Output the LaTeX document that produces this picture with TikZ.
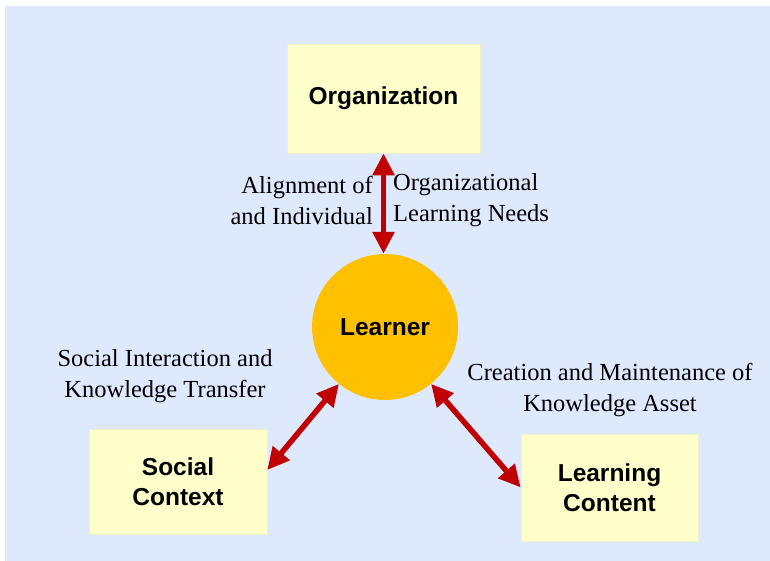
\documentclass[tikz,border=0pt]{standalone}
\usepackage{fontspec}
\setmainfont{Liberation Serif}
\setsansfont{Liberation Sans}
\usetikzlibrary{arrows.meta}
\definecolor{bgblue}{RGB}{222,233,254}
\definecolor{boxyellow}{RGB}{255,255,204}
\definecolor{boxedge}{RGB}{240,240,200}
\definecolor{gold}{RGB}{255,192,0}
\definecolor{darkred}{RGB}{192,0,0}
\tikzset{
  box/.style={rectangle, fill=boxyellow, draw=boxedge, line width=0.6pt, align=center,
    font=\sffamily\bfseries\fontsize{24.5}{30}\selectfont},
  learnerstyle/.style={circle, fill=gold, minimum size=146pt, inner sep=0pt,
    font=\sffamily\bfseries\fontsize{24.5}{30}\selectfont},
  lab/.style={font=\fontsize{24.5}{31}\selectfont, inner sep=0pt},
  link/.style={draw=darkred, line width=5.5pt,
    {Triangle[length=22pt,width=21pt]}-{Triangle[length=22pt,width=21pt]}}
}
\begin{document}
\begin{tikzpicture}[x=1pt,y=-1pt]
\useasboundingbox (0,0) rectangle (770,561);
\fill[bgblue] (5,6) rectangle (770,561);
\node[box, minimum width=193pt, minimum height=109pt] (org) at (383.5,98.5) {Organization};
\node[learnerstyle] (learner) at (385,327) {Learner};
\node[box, minimum width=178pt, minimum height=105pt] (social) at (178,481.5) {Social\\Context};
\node[box, minimum width=177pt, minimum height=107pt] (content) at (609.5,487.5) {Learning\\Content};
\draw[link] (org.south) -- (org.south |- learner.north);
\draw[link] (learner.231) -- ([yshift=11.5pt]social.east);
\draw[link] (learner.309) -- (content.west);
\node[lab, anchor=east, align=right] (alignl) at (373,200) {Alignment of\\and Individual};
\node[lab, anchor=west, align=left] (alignr) at (393,200) {Organizational\\Learning Needs};
\node[lab, align=center] (soclab) at (165,376.5) {Social Interaction and\\Knowledge Transfer};
\node[lab, align=center] (crelab) at (610,390) {Creation and Maintenance of\\Knowledge Asset};
\end{tikzpicture}
\end{document}
